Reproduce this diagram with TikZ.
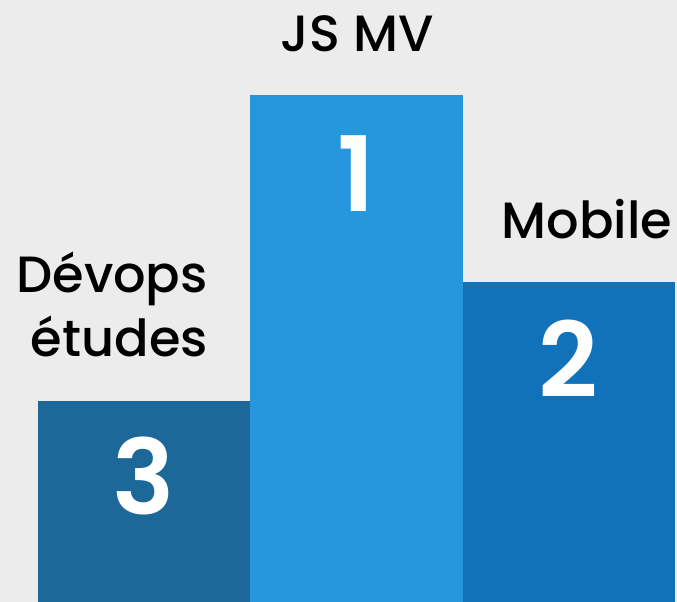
\documentclass[tikz,border=0pt]{standalone}
\usepackage{fontspec}
\setmainfont{Poppins}
\newfontfamily\medfont{Poppins Medium}
\newfontfamily\semifont{Poppins SemiBold}
\definecolor{bg}{HTML}{ECECEC}
\definecolor{barL}{HTML}{1C6898}
\definecolor{barM}{HTML}{2797DD}
\definecolor{barR}{HTML}{1172B9}
\begin{document}
\begin{tikzpicture}[x=1pt,y=1pt,
  lbl/.style={font=\medfont\fontsize{51}{51}\selectfont,text=black,inner sep=0pt,anchor=base},
  num/.style={font=\semifont\fontsize{104}{104}\selectfont,text=white,inner sep=0pt,anchor=base}]
\fill[bg] (0,0) rectangle (677,602);
\useasboundingbox (0,0) rectangle (677,602);
\fill[barL] (38,0) rectangle (250,201);
\fill[barM] (250,0) rectangle (463,507);
\fill[barR] (463,0) rectangle (675,320);
\node[num] (n1) at (356,390) {1};
\node[num] (n2) at (568,204) {2};
\node[num] (n3) at (144,87) {3};
\node[lbl] (t1) at (357,550) {JS MV};
\node[lbl] (t2) at (587,363) {Mobile};
\node[lbl,anchor=base east] (t3) at (208,309) {Dévops};
\node[lbl,anchor=base east] (t4) at (208,245) {études};
\end{tikzpicture}
\end{document}
